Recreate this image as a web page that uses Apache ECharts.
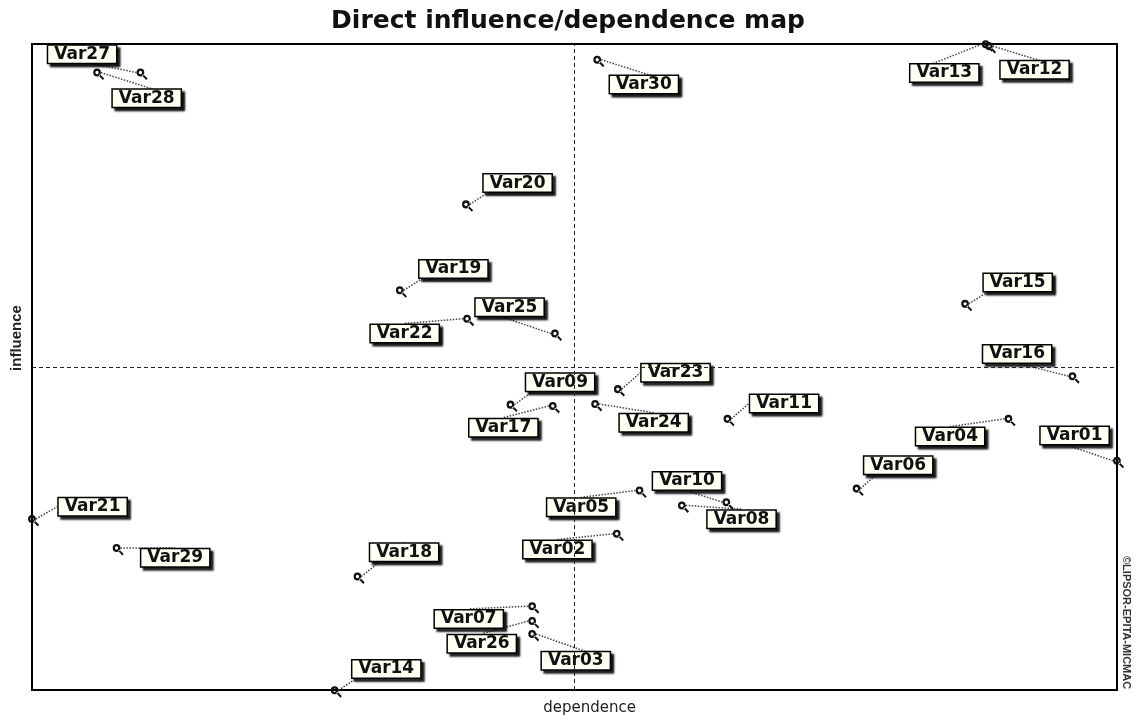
<!DOCTYPE html>
<html>
<head>
<meta charset="utf-8">
<script src="https://cdn.jsdelivr.net/npm/echarts@6/dist/echarts.min.js"></script>
<style>
  html, body { margin: 0; padding: 0; background: #fff; }
  #chart { width: 1136px; height: 721px; }
</style>
</head>
<body>
<div id="chart"></div>
<script>
// ---- Data ----
const chartTitle = 'Direct influence/dependence map';
const xAxisName = 'dependence';
const yAxisName = 'influence';
const copyrightText = '\u00A9LIPSOR-EPITA-MICMAC';

const varNames = ['Var01','Var02','Var03','Var04','Var05','Var06','Var07','Var08','Var09','Var10',
                  'Var11','Var12','Var13','Var14','Var15','Var16','Var17','Var18','Var19','Var20',
                  'Var21','Var22','Var23','Var24','Var25','Var26','Var27','Var28','Var29','Var30'];
const dependence = [100.0, 53.9, 46.1, 90.0, 56.0, 76.0, 46.1, 59.9, 44.1, 64.0,
                    64.1, 88.2, 87.9, 27.9, 86.0, 95.9, 48.0, 30.0, 33.9, 40.0,
                    0.0, 40.1, 54.0, 51.9, 48.2, 46.1, 10.0, 6.0, 7.8, 52.1];
const influence  = [35.5, 24.2, 8.7, 42.0, 30.9, 31.2, 13.0, 28.6, 44.2, 29.1,
                    42.0, 99.7, 100.0, 0.0, 59.8, 48.6, 44.0, 17.6, 61.9, 75.2,
                    26.5, 57.5, 46.6, 44.3, 55.2, 10.7, 95.6, 95.6, 22.0, 97.6];
const meanDependence = 50;
const meanInfluence = 50;

// ---- Layout only: where each label box sits relative to its point (pixels) ----
const labelOffsets = [[-44,-27],[-61,14],[42,25],[-60,16],[-60,15],[40,-25],[-65,11],[58,12],[48,-24],[-41,-23],
                      [55,-17],[44,22],[-43,27],[50,-23],[51,-23],[-57,-24],[-51,20],[45,-26],[52,-23],[50,-23],
                      [59,-14],[-64,13],[56,-18],[57,17],[-47,-28],[-52,21],[-60,-20],[48,24],[57,8],[45,23]];

const points = varNames.map((n, i) => ({ name: n, value: [dependence[i], influence[i]] }));

// key-shaped marker: ring at upper-left with a short tail to lower-right
const keySymbol = 'path://M0.5,4 A3.5,3.5 0 1,0 7.5,4 A3.5,3.5 0 1,0 0.5,4 Z M2.5,4 A1.5,1.5 0 1,1 5.5,4 A1.5,1.5 0 1,1 2.5,4 Z M5.4,6.6 L6.6,5.4 L10.5,9.1 L9.3,10.5 Z';

const chart = echarts.init(document.getElementById('chart'), null, { renderer: 'canvas' });
chart.setOption({
  backgroundColor: '#ffffff',
  animation: false,
  title: {
    text: chartTitle,
    left: 'center',
    top: 4,
    textStyle: { fontFamily: 'DejaVu Sans', fontWeight: 'bold', fontSize: 25, color: '#111' }
  },
  grid: {
    show: true, left: 32, right: 19, top: 44, bottom: 23,
    borderColor: '#000', borderWidth: 2, backgroundColor: 'transparent'
  },
  xAxis: {
    type: 'value', min: 0, max: 100,
    name: xAxisName, nameLocation: 'middle', nameGap: 11,
    nameTextStyle: { fontFamily: 'DejaVu Sans', fontSize: 15, color: '#222', padding: [0, 0, 0, 30] },
    axisLine: { show: false }, axisTick: { show: false }, axisLabel: { show: false }, splitLine: { show: false }
  },
  yAxis: {
    type: 'value', min: 0, max: 100,
    name: yAxisName, nameLocation: 'middle', nameGap: 8, nameRotate: 90,
    nameTextStyle: { fontFamily: 'Liberation Sans Narrow, Liberation Sans', fontWeight: 'bold', fontSize: 15, color: '#222', padding: [0, 0, 0, 58] },
    axisLine: { show: false }, axisTick: { show: false }, axisLabel: { show: false }, splitLine: { show: false }
  },
  graphic: [{
    type: 'text',
    left: 1121, top: 556,
    rotation: -Math.PI / 2,
    style: { text: copyrightText, fontFamily: 'Liberation Sans Narrow, Liberation Sans', fontWeight: 'bold', fontSize: 11, fill: '#333' }
  }],
  series: [{
    type: 'scatter',
    clip: false,
    data: points,
    symbol: keySymbol,
    symbolSize: [11, 11.5],
    symbolOffset: [1.6, 1.9],
    itemStyle: { color: '#111', opacity: 1 },
    label: {
      show: true,
      position: 'inside',
      formatter: '{b}',
      fontFamily: 'DejaVu Sans',
      fontWeight: 'bold',
      fontSize: 17,
      lineHeight: 15,
      color: '#111',
      opacity: 1,
      backgroundColor: '#fffff4',
      borderColor: '#000',
      borderWidth: 1.5,
      padding: [1, 6, 1, 6],
      shadowColor: 'rgba(0,0,0,0.85)',
      shadowBlur: 2,
      shadowOffsetX: 3,
      shadowOffsetY: 3
    },
    labelLine: {
      show: true,
      lineStyle: { color: '#444', width: 1.5, type: 'dotted', opacity: 1 }
    },
    labelLayout: function (params) {
      const o = labelOffsets[params.dataIndex];
      return { dx: o[0], dy: o[1] };
    },
    markLine: {
      silent: true,
      symbol: 'none',
      label: { show: false },
      lineStyle: { color: '#222', width: 1, type: [4, 3], opacity: 1 },
      data: [{ xAxis: meanDependence }, { yAxis: meanInfluence }]
    }
  }]
});
</script>
</body>
</html>
